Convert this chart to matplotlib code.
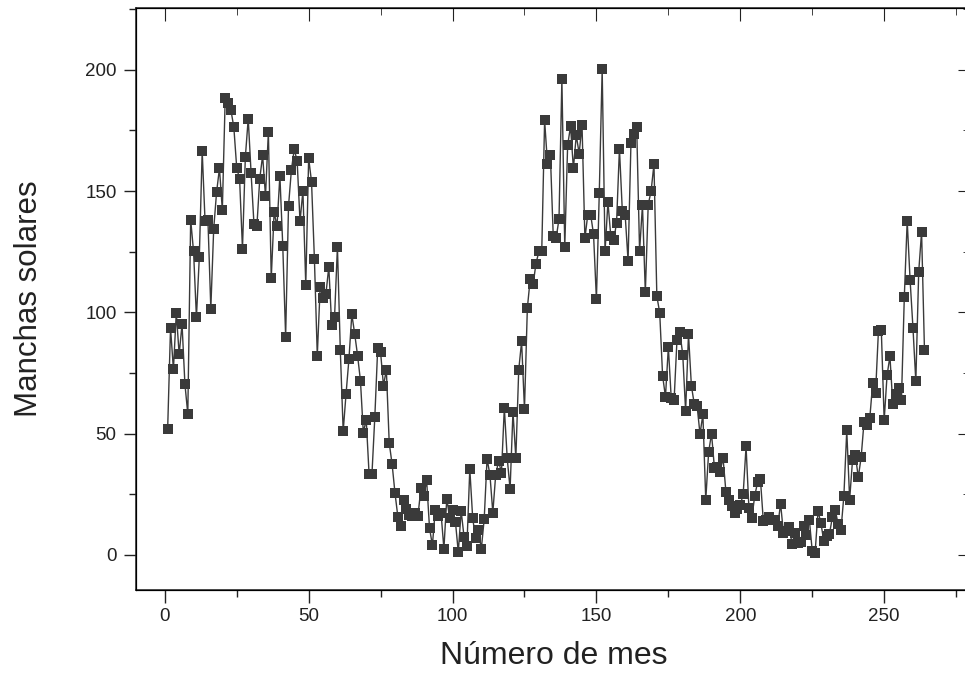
import numpy as np
import matplotlib.pyplot as plt

# --- Datos: manchas solares mensuales, un valor por mes ---
manchas_1978 = [51.9, 93.6, 76.5, 99.7, 82.7, 95.1, 70.4, 58.1, 138.2, 125.1, 97.9, 122.7]
manchas_1979 = [166.6, 137.5, 138.0, 101.5, 134.4, 149.5, 159.4, 142.2, 188.4, 186.2, 183.3, 176.3]
manchas_1980 = [159.6, 155.0, 126.2, 164.1, 179.9, 157.3, 136.3, 135.4, 155.0, 164.7, 147.9, 174.4]
manchas_1981 = [114.0, 141.3, 135.5, 156.4, 127.5, 90.0, 143.8, 158.7, 167.3, 162.4, 137.5, 150.1]
manchas_1982 = [111.2, 163.6, 153.8, 122.0, 82.2, 110.4, 106.1, 107.6, 118.8, 94.7, 98.1, 127.0]
manchas_1983 = [84.3, 51.0, 66.5, 80.7, 99.2, 91.1, 82.2, 71.8, 50.3, 55.8, 33.3, 33.4]
manchas_1984 = [57.0, 85.4, 83.5, 69.7, 76.4, 46.1, 37.4, 25.5, 15.7, 12.0, 22.8, 18.7]
manchas_1985 = [16.5, 15.9, 17.2, 16.2, 27.5, 24.2, 30.7, 11.1, 3.9, 18.6, 16.2, 17.3]
manchas_1986 = [2.5, 23.2, 15.1, 18.5, 13.7, 1.1, 18.1, 7.4, 3.8, 35.4, 15.2, 6.8]
manchas_1987 = [10.4, 2.4, 14.7, 39.6, 33.0, 17.4, 33.0, 38.7, 33.9, 60.6, 39.9, 27.1]
manchas_1988 = [59.0, 40.0, 76.2, 88.0, 60.1, 101.8, 113.8, 111.6, 120.1, 125.1, 125.1, 179.2]
manchas_1989 = [161.3, 165.0, 131.4, 130.6, 138.5, 196.2, 126.9, 168.9, 176.7, 159.4, 173.0, 165.5]
manchas_1990 = [177.3, 130.5, 140.3, 140.3, 132.2, 105.4, 149.4, 200.3, 125.2, 145.5, 131.4, 129.7]
manchas_1991 = [136.9, 167.5, 141.9, 140.0, 121.3, 169.7, 173.7, 176.3, 125.3, 144.1, 108.2, 144.4]
manchas_1992 = [150.0, 161.1, 106.7, 99.8, 73.8, 65.2, 85.7, 64.5, 63.9, 88.7, 91.8, 82.6]
manchas_1993 = [59.3, 91.0, 69.8, 62.2, 61.3, 49.8, 57.9, 22.7, 42.4, 50.0, 36.0, 36.4]
manchas_1994 = [34.3, 40.0, 26.0, 22.7, 20.0, 17.2, 19.0, 20.5, 25.0, 44.7, 19.2, 15.1]
manchas_1995 = [24.2, 29.9, 31.1, 14.0, 14.5, 15.6, 14.5, 14.3, 11.8, 21.1, 9.0, 10.0]
manchas_1996 = [11.5, 4.4, 9.2, 4.8, 5.5, 11.8, 8.2, 14.4, 1.6, 0.9, 17.9, 13.3]
manchas_1997 = [5.7, 7.6, 8.7, 15.5, 18.5, 12.7, 10.4, 24.4, 51.3, 22.8, 39.0, 41.2]
manchas_1998 = [31.9, 40.3, 54.8, 53.4, 56.3, 70.7, 66.6, 92.2, 92.9, 55.5, 74.0, 81.9]
manchas_1999 = [62.0, 66.3, 68.8, 63.7, 106.4, 137.7, 113.5, 93.7, 71.5, 116.7, 133.2, 84.6]

manchas = np.concatenate([manchas_1978, manchas_1979, manchas_1980, manchas_1981,
                          manchas_1982, manchas_1983, manchas_1984, manchas_1985,
                          manchas_1986, manchas_1987, manchas_1988, manchas_1989,
                          manchas_1990, manchas_1991, manchas_1992, manchas_1993,
                          manchas_1994, manchas_1995, manchas_1996, manchas_1997,
                          manchas_1998, manchas_1999])
meses = np.arange(1, len(manchas) + 1)  # número de mes

ticks_x = [0, 50, 100, 150, 200, 250]
ticks_y = [0, 50, 100, 150, 200]

# --- Figura ---
plt.rcParams['font.family'] = ['Liberation Sans', 'DejaVu Sans']
fig = plt.figure(figsize=(9.65, 6.92), dpi=100)
ax = fig.add_axes([136 / 965, 1 - 590 / 692, (970.5 - 136) / 965, (590 - 8) / 692])

gris = '#3a3a3a'
ax.plot(meses, manchas, '-', color=gris, lw=1.0)
ax.plot(meses, manchas, 's', color=gris, markersize=7.8, markeredgewidth=0)

ax.set_xlim(-10, 280)
ax.set_ylim(-14.5, 225.5)
ax.set_xticks(ticks_x)
ax.set_yticks(ticks_y)
ax.set_xticks(np.arange(25, 280, 50), minor=True)
ax.set_yticks(np.arange(25, 226, 50), minor=True)

# ejes: ticks hacia fuera abajo/izquierda, hacia dentro arriba/derecha
for lado in ['left', 'bottom', 'top', 'right']:
    ax.spines[lado].set_linewidth(1.1)
    ax.spines[lado].set_color('#222222')
ax.tick_params(which='both', direction='out', color='#222222', width=1.0,
               labelsize=13.5, labelcolor='#222222')
ax.tick_params(which='major', length=9)
ax.tick_params(which='minor', length=5)
ax.tick_params(axis='y', pad=5)
ax.tick_params(axis='x', pad=4)

ax2 = ax.twinx()
ax2.set_ylim(ax.get_ylim())
ax2.set_yticks(ticks_y)
ax2.set_yticks(np.arange(25, 226, 50), minor=True)
ax2.tick_params(which='both', direction='in', labelright=False, color='#222222')
ax2.tick_params(which='major', length=9)
ax2.tick_params(which='minor', length=5)

ax3 = ax.twiny()
ax3.set_xlim(ax.get_xlim())
ax3.set_xticks(ticks_x)
ax3.set_xticks(np.arange(25, 280, 50), minor=True)
ax3.tick_params(which='both', direction='in', labeltop=False, color='#222222')
ax3.tick_params(which='major', length=9)
ax3.tick_params(which='minor', length=5)

ax.set_xlabel('Número de mes', fontsize=23, color='#222222')
ax.set_ylabel('Manchas solares', fontsize=22.5, color='#222222')
ax.xaxis.set_label_coords(0.5, -0.088)
ax.yaxis.set_label_coords(-0.11, 0.5)

fig.savefig('out.png', dpi=100, facecolor='white')
